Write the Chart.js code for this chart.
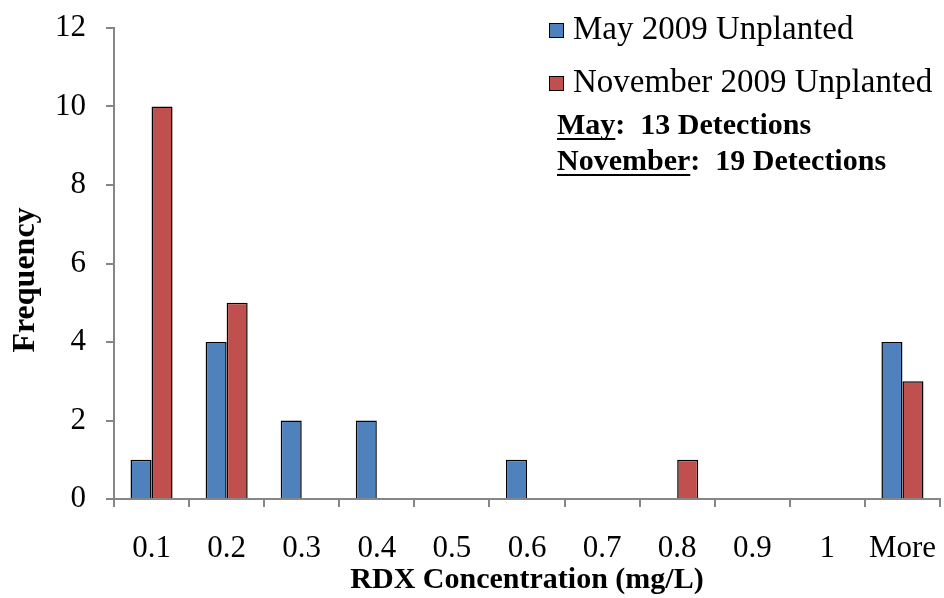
<!DOCTYPE html>
<html>
<head>
<meta charset="utf-8">
<script src="https://cdn.jsdelivr.net/npm/chart.js@4/dist/chart.umd.min.js"></script>
<style>
  html, body { margin: 0; padding: 0; background: #fff; }
  #wrap { width: 944px; height: 598px; }
</style>
</head>
<body>
<div id="wrap"><canvas id="grafico"></canvas></div>
<script>
// categorias e séries
const categorias = ["0.1", "0.2", "0.3", "0.4", "0.5", "0.6", "0.7", "0.8", "0.9", "1", "More"];
const maio = [1, 4, 2, 2, 0, 1, 0, 0, 0, 0, 4];
const novembro = [10, 5, 0, 0, 0, 0, 0, 1, 0, 0, 3];
const nomes = ["May 2009 Unplanted", "November 2009 Unplanted"];
const notas = [["May", ":  13 Detections"], ["November", ":  19 Detections"]];
const yTicks = [0, 2, 4, 6, 8, 10, 12];
const tituloY = "Frequency";

const AZUL = "#4F81BD";
const VERMELHO = "#C0504D";
const EIXO = "#868686";
const SERIF = "'Liberation Serif', 'Times New Roman', serif";

// legenda, anotação e título do eixo y desenhados à mão
const legendaPlugin = {
    id: "legenda",
    afterDraw(chart) {
        const ctx = chart.ctx;
        ctx.save();
        chart.data.datasets.forEach((ds, i) => {
            const y = 30 + i * 53;
            ctx.fillStyle = ds.backgroundColor;
            ctx.fillRect(549, y - 7, 15, 15);
            ctx.strokeStyle = "#000";
            ctx.lineWidth = 1;
            ctx.strokeRect(549.5, y - 6.5, 14, 14);
            ctx.fillStyle = "#000";
            ctx.font = "33px " + SERIF;
            ctx.textBaseline = "middle";
            ctx.fillText(ds.label, 573, y);
        });
        ctx.font = "bold 30px " + SERIF;
        ctx.textBaseline = "alphabetic";
        notas.forEach((n, i) => {
            const x = 557;
            const y = 134 + i * 36;
            ctx.fillText(n[0], x, y);
            const w = ctx.measureText(n[0]).width;
            ctx.fillRect(x, y + 4, w, 2);
            ctx.fillText(n[1], x + w, y);
        });

        // título vertical
        ctx.translate(26, 280);
        ctx.rotate(-Math.PI / 2);
        ctx.font = "bold 32px " + SERIF;
        ctx.textAlign = "center";
        ctx.textBaseline = "middle";
        ctx.fillText(tituloY, 0, 0);
        ctx.restore();
    }
};

new Chart(document.getElementById("grafico"), {
    type: "bar",
    data: {
        labels: categorias,
        datasets: [
            {
                label: nomes[0],
                data: maio,
                backgroundColor: AZUL,
                borderColor: "#000",
                borderWidth: 1.5,
                borderSkipped: "bottom"
            },
            {
                label: nomes[1],
                data: novembro,
                backgroundColor: VERMELHO,
                borderColor: "#000",
                borderWidth: 1.5,
                borderSkipped: "bottom"
            }
        ]
    },
    options: {
        responsive: true,
        maintainAspectRatio: false,
        animation: false,
        layout: { padding: { top: 28, right: 4, bottom: 0, left: 0 } },
        datasets: { bar: { barPercentage: 1, categoryPercentage: 0.56 } },
        plugins: {
            legend: { display: false },
            tooltip: { enabled: false }
        },
        scales: {
            x: {
                offset: true,
                grid: {
                    offset: true,
                    drawOnChartArea: false,
                    color: EIXO,
                    tickLength: 8,
                    lineWidth: 2
                },
                border: { color: EIXO, width: 2 },
                ticks: {
                    color: "#000",
                    font: { family: SERIF, size: 31 },
                    padding: 23,
                    maxRotation: 0,
                    autoSkip: false
                },
                title: {
                    display: true,
                    text: "RDX Concentration (mg/L)",
                    color: "#000",
                    font: { family: SERIF, size: 30, weight: "bold" },
                    padding: 0
                },
                afterFit(scale) {
                    scale.height = 99;
                    scale.paddingLeft = 0;
                    scale.paddingRight = 0;
                }
            },
            y: {
                min: 0,
                max: 12,
                afterBuildTicks(scale) { scale.ticks = yTicks.map(v => ({ value: v })); },
                grid: {
                    drawOnChartArea: false,
                    color: EIXO,
                    tickLength: 8,
                    lineWidth: 2
                },
                border: { color: EIXO, width: 2 },
                ticks: {
                    color: "#000",
                    font: { family: SERIF, size: 31 },
                    padding: 20
                },
                afterFit(scale) {
                    scale.width = 114;
                    scale.paddingTop = 0;
                    scale.paddingBottom = 0;
                }
            }
        }
    },
    plugins: [legendaPlugin]
});
</script>
</body>
</html>
